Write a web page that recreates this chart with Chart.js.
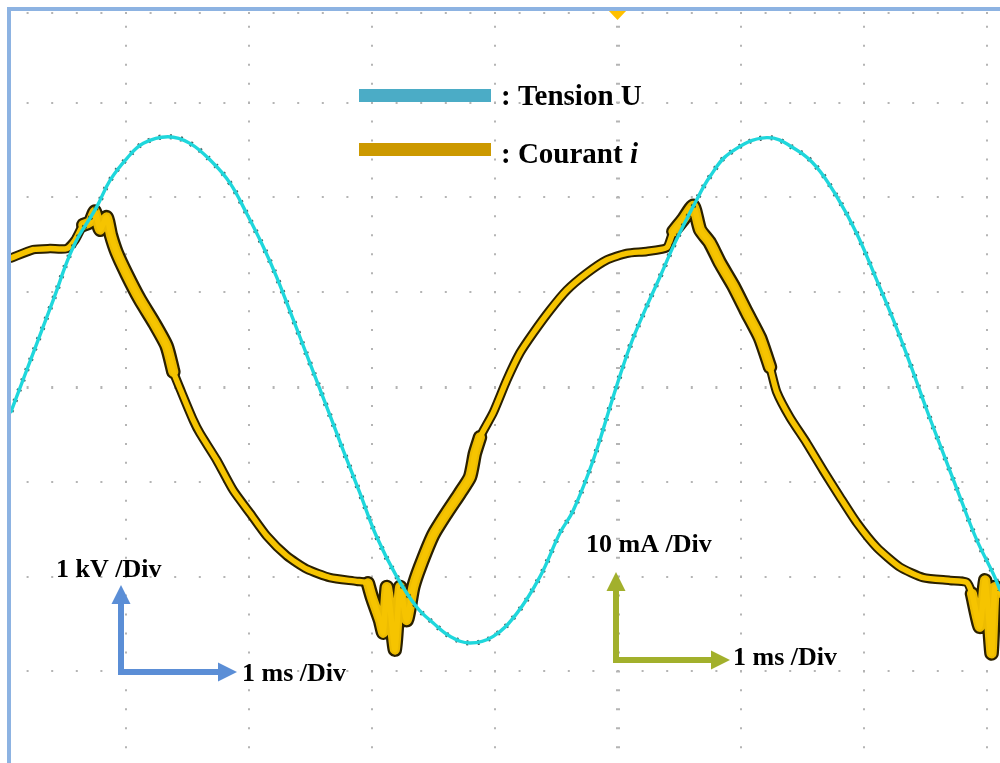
<!DOCTYPE html>
<html>
<head>
<meta charset="utf-8">
<title>Tension U / Courant i</title>
<script src="https://cdn.jsdelivr.net/npm/chart.js@4.4.1/dist/chart.umd.min.js"></script>
<style>
  html, body { margin: 0; padding: 0; background: #ffffff; }
  canvas { display: block; }
</style>
</head>
<body>
<canvas id="scope" width="1000" height="763"></canvas>
<script>
// Time base: 1 ms per division. Voltage: 1 kV per division. Current: 10 mA per division.
const tensionTime = [0.065, 0.246, 0.409, 0.572, 0.762, 0.870, 1.006, 1.141, 1.341, 1.520,
  1.710, 1.846, 1.981, 2.116, 2.225, 2.360, 2.496, 2.632, 2.767, 2.902,
  3.038, 3.201, 3.363, 3.498, 3.634, 3.797, 3.986, 4.176, 4.366, 4.528,
  4.637, 4.799, 4.962, 5.098, 5.233, 5.341, 5.463, 5.626, 5.748, 5.911,
  6.209, 6.453, 6.615, 6.778, 6.941, 7.103, 7.238, 7.374, 7.510, 7.645,
  7.780, 7.916, 8.051, 8.106];
const tensionKV = [-0.26, 0.36, 0.92, 1.48, 1.90, 2.18, 2.41, 2.57, 2.64, 2.57,
  2.36, 2.15, 1.83, 1.48, 1.16, 0.71, 0.25, -0.21, -0.67, -1.12,
  -1.58, -2.00, -2.32, -2.49, -2.63, -2.70, -2.63, -2.39, -2.00, -1.54,
  -1.30, -0.77, -0.10, 0.43, 0.85, 1.16, 1.52, 1.94, 2.22, 2.47,
  2.63, 2.50, 2.32, 2.01, 1.62, 1.13, 0.71, 0.25, -0.24, -0.70,
  -1.16, -1.61, -1.97, -2.14];

const currentTime = [0.065, 0.246, 0.382, 0.518, 0.585, 0.653, 0.707, 0.748, 0.789, 0.843,
  0.878, 0.924, 1.006, 1.114, 1.222, 1.331, 1.385, 1.453, 1.547, 1.602,
  1.737, 1.872, 2.008, 2.144, 2.307, 2.469, 2.659, 2.876, 2.967, 3.000,
  3.065, 3.092, 3.120, 3.146, 3.187, 3.228, 3.282, 3.336, 3.390, 3.498,
  3.607, 3.715, 3.797, 3.837, 3.878, 3.986, 4.095, 4.203, 4.311, 4.447,
  4.583, 4.746, 4.908, 5.071, 5.233, 5.396, 5.450, 5.531, 5.612, 5.667,
  5.748, 5.829, 5.937, 6.046, 6.154, 6.236, 6.290, 6.398, 6.534, 6.669,
  6.805, 6.941, 7.103, 7.293, 7.482, 7.699, 7.835, 7.878, 7.943, 7.984,
  8.011, 8.038, 8.065, 8.106];
const currentMA = [13.6, 14.5, 14.6, 14.6, 15.5, 17.1, 17.4, 18.5, 16.6, 17.9,
  16.0, 14.2, 11.9, 9.2, 6.9, 4.3, 1.6, -0.6, -3.5, -4.9,
  -7.7, -10.9, -13.3, -15.7, -17.8, -19.2, -20.1, -20.5, -20.7, -22.2,
  -24.6, -25.9, -21.1, -23.2, -27.7, -21.1, -24.6, -21.1, -19.0, -15.6,
  -13.3, -11.2, -9.5, -7.0, -5.3, -2.7, 0.7, 3.6, 5.7, 8.1,
  10.2, 12.0, 13.4, 14.1, 14.3, 14.7, 16.4, 17.7, 19.1, 16.6,
  15.2, 13.1, 10.7, 7.9, 5.2, 2.1, -0.5, -3.2, -5.9, -8.8,
  -11.6, -14.3, -16.9, -19.0, -20.1, -20.4, -20.6, -21.8, -25.3, -20.4,
  -23.8, -28.1, -21.1, -21.7];

// Graticule lines (divisions) and the noisy stretches of the current trace (ms)
const timeDivisions = [1, 2, 3, 4, 5, 6, 7, 8];
const voltDivisions = [-3, -2, -1, 0, 1, 2, 3, 3.95];
const noisyStretches = [[0.60, 1.45], [2.96, 3.88], [5.42, 6.25], [7.86, 8.20]];

const isNoisy = t => noisyStretches.some(([a, b]) => t >= a && t <= b);

const tensionPoints = tensionTime.map((t, i) => ({ x: t, y: tensionKV[i] }));
const currentPoints = currentTime.map((t, i) => ({ x: t, y: currentMA[i] }));
// noisy stretches are drawn as separate, wider pieces of the same trace
const noisyPoints = currentTime.map((t, i) => ({ x: t, y: isNoisy(t) ? currentMA[i] : null }));

const scopeDecor = {
  id: 'scopeDecor',
  afterDraw(chart) {
    const ctx = chart.ctx;
    const W = chart.width, H = chart.height;
    ctx.save();

    // trigger marker
    ctx.fillStyle = '#FFC000';
    ctx.beginPath();
    ctx.moveTo(608, 10); ctx.lineTo(627, 10); ctx.lineTo(617.5, 20); ctx.closePath();
    ctx.fill();

    // frame
    ctx.fillStyle = '#8DB3E2';
    ctx.fillRect(7, 7, 4, H - 7);
    ctx.fillRect(7, 7, W - 7, 4);

    // legend
    ctx.fillStyle = '#4BACC6';
    ctx.fillRect(359, 89, 132, 13);
    ctx.fillStyle = '#CC9900';
    ctx.fillRect(359, 143, 132, 13);

    ctx.fillStyle = '#000000';
    ctx.textBaseline = 'alphabetic';
    ctx.textAlign = 'left';
    ctx.font = 'bold 29px "Liberation Serif", "Times New Roman", serif';
    ctx.fillText(': Tension U', 501, 105);
    const lead = ': Courant ';
    ctx.fillText(lead, 501, 163);
    const w = ctx.measureText(lead).width;
    ctx.font = 'italic bold 29px "Liberation Serif", "Times New Roman", serif';
    ctx.fillText('i', 501 + w, 163);

    // scale arrows
    const arrow = (color, cx, cy, topY, rightX) => {
      ctx.strokeStyle = color;
      ctx.fillStyle = color;
      ctx.lineWidth = 6;
      ctx.lineCap = 'butt';
      ctx.lineJoin = 'miter';
      ctx.beginPath();
      ctx.moveTo(cx, topY + 18);
      ctx.lineTo(cx, cy);
      ctx.lineTo(rightX - 19, cy);
      ctx.stroke();
      ctx.beginPath();
      ctx.moveTo(cx, topY); ctx.lineTo(cx - 9.5, topY + 19); ctx.lineTo(cx + 9.5, topY + 19);
      ctx.closePath(); ctx.fill();
      ctx.beginPath();
      ctx.moveTo(rightX, cy); ctx.lineTo(rightX - 19, cy - 9.5); ctx.lineTo(rightX - 19, cy + 9.5);
      ctx.closePath(); ctx.fill();
    };
    arrow('#5B8ED6', 121, 672, 585, 237);
    arrow('#A2B02C', 616, 660, 572, 730);

    ctx.fillStyle = '#000000';
    ctx.font = 'bold 26px "Liberation Serif", "Times New Roman", serif';
    ctx.fillText('1 kV /Div', 56, 577);
    ctx.fillText('1 ms /Div', 242, 681);
    ctx.fillText('10 mA /Div', 586, 552);
    ctx.fillText('1 ms /Div', 733, 665);

    ctx.restore();
  }
};

const traceLine = {
  pointRadius: 0,
  fill: false,
  borderCapStyle: 'round',
  borderJoinStyle: 'round',
  spanGaps: false
};

new Chart(document.getElementById('scope'), {
  type: 'line',
  data: {
    datasets: [
      Object.assign({}, traceLine, {
        label: 'Tension U',
        data: tensionPoints,
        yAxisID: 'y',
        borderColor: '#1FD7DC',
        borderWidth: 3.4,
        tension: 0.4
      }),
      Object.assign({}, traceLine, {
        label: 'Tension U (trace edge)',
        data: tensionPoints,
        yAxisID: 'y',
        borderColor: 'rgba(10, 45, 45, 0.75)',
        borderWidth: 5.2,
        borderCapStyle: 'butt',
        borderDash: [2, 9],
        tension: 0.4
      }),
      Object.assign({}, traceLine, {
        label: 'Courant i',
        data: currentPoints,
        yAxisID: 'y1',
        borderColor: '#F6C400',
        borderWidth: 5.5,
        tension: 0.2
      }),
      Object.assign({}, traceLine, {
        label: 'Courant i (noisy core)',
        data: noisyPoints,
        yAxisID: 'y1',
        borderColor: '#EDBC00',
        borderWidth: 10,
        tension: 0.2
      }),
      Object.assign({}, traceLine, {
        label: 'Courant i (trace edge)',
        data: currentPoints,
        yAxisID: 'y1',
        borderColor: '#2A2000',
        borderWidth: 9.5,
        tension: 0.2
      }),
      Object.assign({}, traceLine, {
        label: 'Courant i (noisy edge)',
        data: noisyPoints,
        yAxisID: 'y1',
        borderColor: '#2A2000',
        borderWidth: 14.5,
        tension: 0.2
      })
    ]
  },
  options: {
    responsive: false,
    animation: false,
    devicePixelRatio: 1,
    layout: { padding: { left: 11, top: 11, right: 0, bottom: 0 } },
    plugins: { legend: { display: false }, tooltip: { enabled: false } },
    scales: {
      x: {
        type: 'linear',
        min: 0.065,
        max: 8.106,
        afterBuildTicks: s => { s.ticks = timeDivisions.map(v => ({ value: v })); },
        ticks: { display: false },
        grid: {
          color: '#b4b4b4',
          lineWidth: c => (c.tick && c.tick.value === 5) ? 4 : 2,
          drawTicks: false
        },
        border: { display: false, dash: [2, 16.96], dashOffset: 4.2 }
      },
      y: {
        type: 'linear',
        min: -3.966,
        max: 3.966,
        afterBuildTicks: s => { s.ticks = voltDivisions.map(v => ({ value: v })); },
        ticks: { display: false },
        grid: {
          color: '#b4b4b4',
          lineWidth: c => (c.tick && c.tick.value === 0) ? 3 : 2,
          drawTicks: false
        },
        border: { display: false, dash: [2, 22.6], dashOffset: 9.0 }
      },
      y1: {
        type: 'linear',
        display: false,
        min: -39.66,
        max: 39.66
      }
    }
  },
  plugins: [scopeDecor]
});
</script>
</body>
</html>
